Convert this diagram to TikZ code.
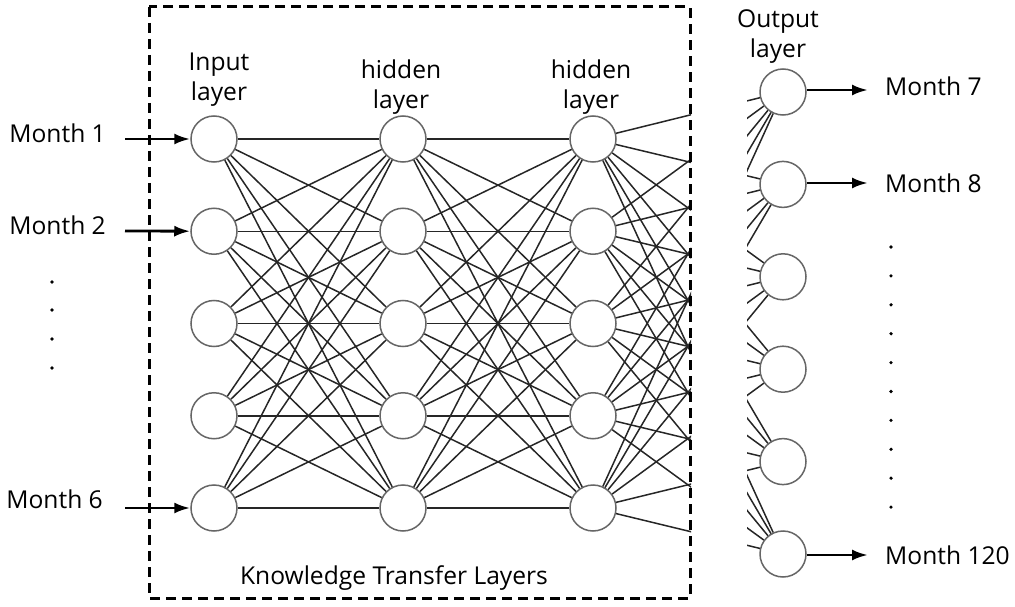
\documentclass[tikz,border=0pt]{standalone}
\usepackage{fontspec}
\setmainfont{Open Sans}
\usetikzlibrary{arrows.meta,positioning}

\tikzset{
  neuron/.style={circle,draw=black!60,line width=1.5pt,fill=white,minimum size=46pt,inner sep=0pt},
  conn/.style={line width=1.5pt,black!85},
  io/.style={-{Latex[length=16pt,width=11pt]},line width=2.8pt},
  lbl/.style={font=\fontsize{24.6}{30}\selectfont,align=center,inner sep=0pt},
  dotmark/.style={circle,fill=black,inner sep=0pt,minimum size=3.6pt},
  ktbox/.style={draw,line width=3pt,dash pattern=on 10pt off 6pt},
}

\begin{document}
\begin{tikzpicture}[x=1pt,y=-1pt]
    \useasboundingbox (0,0) rectangle (1015,607);

    % neurons
    \foreach \i in {1,...,5}
    {
        \node[neuron] (in\i) at (214,46.75+\i*92.25) {};
        \node[neuron] (ha\i) at (403,46.75+\i*92.25) {};
        \node[neuron] (hb\i) at (593,46.75+\i*92.25) {};
    };
    \foreach \j in {1,...,6}
        \node[neuron] (out\j) at (783,-0.4+\j*92.4) {};

    % connections
    \foreach \i in {1,...,5}
        \foreach \k in {1,...,5}
        {
            \draw[conn] (in\i) -- (ha\k);
            \draw[conn] (ha\i) -- (hb\k);
        };
    \begin{scope}
        \clip (0,0) rectangle (691,607);
        \foreach \i in {1,...,5}
            \foreach \j in {1,...,6}
                \draw[conn] (hb\i) -- (out\j);
    \end{scope}
    \begin{scope}
        \clip (747,0) rectangle (1015,607);
        \foreach \i in {1,...,5}
            \foreach \j in {1,...,6}
                \draw[conn] (hb\i) -- (out\j);
    \end{scope}

    % dashed frame
    \draw[ktbox] (149,7) rectangle (690,598);
    \node[lbl] (kt) at (394,578) {Knowledge Transfer Layers};

    % layer titles
    \node[lbl] (tin) at (219,80) {Input\\layer};
    \node[lbl] (tha) at (401,87) {hidden\\layer};
    \node[lbl] (thb) at (591,87) {hidden\\layer};
    \node[lbl] (tout) at (778,37) {Output\\layer};

    % inputs
    \node[lbl,anchor=east] (m1) at (106,133) {Month 1};
    \node[lbl,anchor=east] (m2) at (106,225) {Month 2};
    \node[lbl,anchor=east] (m6) at (103,499) {Month 6};
    \coordinate (a1) at (125,139);
    \coordinate (a2) at (125,231);
    \coordinate (a5) at (125,508);
    \foreach \i in {1,2,5}
        \draw[io] (a\i) -- (in\i);
    \foreach \y in {282,310,339,368}
        \node[dotmark] at (52,\y) {};

    % outputs
    \coordinate (b1) at (868,90);
    \coordinate (b2) at (868,183);
    \coordinate (b6) at (868,555);
    \foreach \j in {1,2,6}
        \draw[io] (out\j.east |- b\j) -- (b\j);
    \node[lbl,anchor=west] (m7) at (885,86) {Month 7};
    \node[lbl,anchor=west] (m8) at (885,183) {Month 8};
    \node[lbl,anchor=west] (m120) at (885,555) {Month 120};
    \foreach \k in {0,...,9}
        \node[dotmark] at (891,247+\k*28.9) {};
\end{tikzpicture}
\end{document}
